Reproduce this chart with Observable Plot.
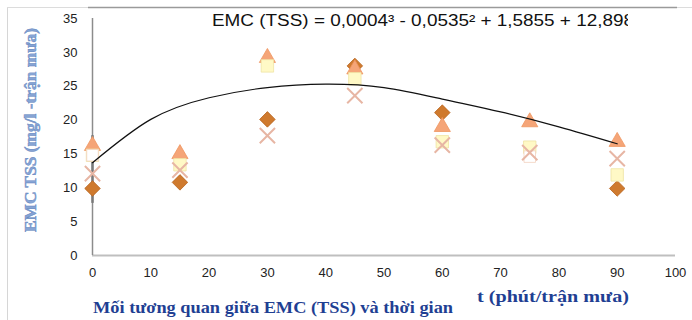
<!DOCTYPE html>
<html><head><meta charset="utf-8">
<script src="https://cdn.jsdelivr.net/npm/d3@7"></script>
<script src="https://cdn.jsdelivr.net/npm/@observablehq/plot@0.6"></script>
<style>body{margin:0;background:#fff}</style>
</head><body><div id="chart"></div>
<script>
const times = [0, 15, 30, 45, 60, 75, 90];
const triangleVals = [16.2, 15.0, 29.2, 27.5, 19.0, 19.7, 16.8];
const squareVals = [14.8, 13.4, 28.0, 26.1, 16.8, 16.0, 11.9];
const diamondVals = [9.9, 10.8, 20.1, 28.0, 21.1, null, 9.9];
const crossVals = [12.1, 12.6, 17.7, 23.6, 16.3, 15.2, 14.3];
const whiteVals = [14.8, null, null, null, null, 14.6, null];
const trendX = [0, 10, 20, 30, 40, 50, 60, 70, 80, 90];
const trendY = [13.7, 20.1, 23.3, 24.8, 25.3, 24.8, 23.1, 21.2, 19.0, 16.5];
const xTicks = [0, 10, 20, 30, 40, 50, 60, 70, 80, 90, 100];
const yTicks = [0, 5, 10, 15, 20, 25, 30, 35];
const errBar = {x: 0, low: 7.7, high: 17.7};

const pts = vals => times.map((t, i) => ({t, v: vals[i]})).filter(d => d.v != null);
const trend = trendX.map((x, i) => ({x, y: trendY[i]}));

const chart = Plot.plot({
  width: 692, height: 320,
  marginLeft: 92, marginRight: 17, marginTop: 18, marginBottom: 65,
  style: {fontFamily: "'Liberation Sans', Arial, sans-serif", fontSize: "13px", color: "#222", background: "#fff"},
  x: {domain: [0, 100], ticks: xTicks, tickSize: 0, tickPadding: 12, label: null},
  y: {domain: [0, 35], ticks: yTicks, tickSize: 0, tickPadding: 15, label: null},
  marks: [
    Plot.ruleY([0], {stroke: "#bfbfbf", strokeWidth: 2}),
    Plot.ruleX([0], {stroke: "#8c8c8c", strokeWidth: 1.5}),
    Plot.ruleX([errBar], {x: "x", y1: "low", y2: "high", stroke: "#7a7a7a", strokeWidth: 2.5}),
    Plot.dot(pts(diamondVals), {x: "t", y: "v", symbol: "diamond2", r: 7, fill: "#cf7a2e", stroke: "#b8651f", strokeWidth: 0.8}),
    Plot.dot(pts(triangleVals), {x: "t", y: "v", symbol: "triangle", r: 6, fill: "#f5a578", stroke: "#ef9560", strokeWidth: 0.8}),
    Plot.dot(pts(squareVals), {x: "t", y: "v", symbol: "square", r: 7, fill: "#fff9c6", stroke: "#efe3a4", strokeWidth: 0.8}),
    Plot.dot(pts(whiteVals), {x: "t", y: "v", symbol: "square", r: 6.5, fill: "#ffffff", stroke: "#f3d2c0", strokeWidth: 0.8}),
    Plot.dot(pts(crossVals), {x: "t", y: "v", symbol: "times", r: 7, stroke: "#e7b6a4", strokeWidth: 2}),
    Plot.line(trend, {x: "x", y: "y", curve: "natural", stroke: "#111", strokeWidth: 1.2}),
    Plot.axisX({ticks: xTicks, tickSize: 0, tickPadding: 12, fontSize: 13, fill: "#222"}),
    Plot.axisY({ticks: yTicks, tickSize: 0, tickPadding: 15, fontSize: 13, fill: "#222"})
  ]
});
document.getElementById("chart").appendChild(chart);

const svg = d3.select(chart);
// frame
svg.append("line").attr("x1", 7.5).attr("x2", 7.5).attr("y1", 7).attr("y2", 320).attr("stroke", "#d6d6d6");
svg.append("line").attr("x1", 7).attr("x2", 692).attr("y1", 7.5).attr("y2", 7.5).attr("stroke", "#dcdcdc");
svg.append("line").attr("x1", 88).attr("x2", 677).attr("y1", 7.5).attr("y2", 7.5).attr("stroke", "#9a9a9a").attr("stroke-width", 1.5);
// equation
svg.append("clipPath").attr("id", "eqclip").append("rect").attr("x", 0).attr("y", 0).attr("width", 628).attr("height", 60);
svg.append("text").attr("clip-path", "url(#eqclip)")
  .attr("x", 212).attr("y", 26).attr("text-anchor", "start")
  .attr("font-family", "'Liberation Sans', Arial, sans-serif").attr("font-size", 16).attr("fill", "#111")
  .attr("textLength", 422).attr("lengthAdjust", "spacingAndGlyphs")
  .text("EMC (TSS) = 0,0004³ - 0,0535² + 1,5855 + 12,898");
// y title
svg.append("text").attr("transform", "translate(36,130) rotate(-90)")
  .attr("text-anchor", "middle")
  .attr("font-family", "'Liberation Serif', 'Times New Roman', serif").attr("font-weight", "bold").attr("font-size", 16)
  .attr("fill", "#86a4d4").attr("stroke", "#5f82bd").attr("stroke-width", 0.4)
  .attr("textLength", 204).attr("lengthAdjust", "spacingAndGlyphs")
  .text("EMC TSS (mg/l -trận mưa)");
// x title
svg.append("text").attr("x", 477).attr("y", 302).attr("text-anchor", "start")
  .attr("font-family", "'Liberation Serif', 'Times New Roman', serif").attr("font-weight", "bold").attr("font-size", 17)
  .attr("fill", "#1f3f93")
  .attr("textLength", 152).attr("lengthAdjust", "spacingAndGlyphs")
  .text("t (phút/trận mưa)");
// caption
svg.append("text").attr("x", 93).attr("y", 313).attr("text-anchor", "start")
  .attr("font-family", "'Liberation Serif', 'Times New Roman', serif").attr("font-weight", "bold").attr("font-size", 17)
  .attr("fill", "#1f3f93")
  .attr("textLength", 360).attr("lengthAdjust", "spacingAndGlyphs")
  .text("Mối tương quan giữa EMC (TSS) và thời gian");
</script>
</body></html>
